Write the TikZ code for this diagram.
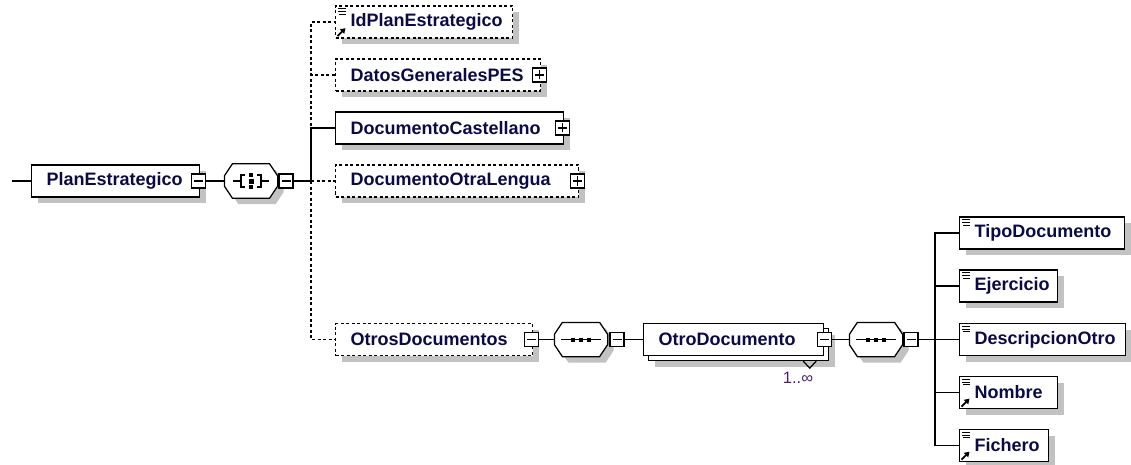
\documentclass[tikz,border=0pt]{standalone}
\usepackage{fontspec}
\setmainfont{Liberation Sans}
\usetikzlibrary{arrows.meta,shadows}
\definecolor{txt}{RGB}{10,10,70}
\definecolor{shadowc}{RGB}{194,194,194}
\definecolor{multc}{RGB}{80,30,110}
\newcommand\drawoct[1]{%
  \draw[fill=white, shad] ([xshift=8pt]#1.north west) -- ([xshift=-8pt]#1.north east) -- ([yshift=-12pt]#1.north east) -- ([yshift=12pt]#1.south east) -- ([xshift=-8pt]#1.south east) -- ([xshift=8pt]#1.south west) -- ([yshift=12pt]#1.south west) -- ([yshift=-12pt]#1.north west) -- cycle;}
\newcommand\seqicon[1]{%
  \draw ([xshift=-20pt]#1.center) -- ([xshift=20pt]#1.center);
  \fill ([shift={(-10,-2)}]#1.center) rectangle ++(4,4);
  \fill ([shift={(-2,-2)}]#1.center) rectangle ++(4,4);
  \fill ([shift={(6,-2)}]#1.center) rectangle ++(4,4);}
\newcommand\attricon[1]{%
  \draw[line width=1.1pt] ([shift={(3,3.5)}]#1.north west) -- ++(8,0) ([shift={(3,6.2)}]#1.north west) -- ++(8,0) ([shift={(4,8.9)}]#1.north west) -- ++(7,0);}
\newcommand\reficon[1]{%
  \draw[line width=1.8pt, -{Triangle[length=5pt,width=6pt]}] ([shift={(2.5,-2.5)}]#1.south west) -- ++(8,-8);}
\begin{document}
\begin{tikzpicture}[x=1pt,y=-1pt,line width=1.25pt,
  elem/.style={draw, fill=white, rectangle, anchor=west, minimum height=32pt, inner xsep=15pt, inner ysep=0pt, text width=#1, align=left, text=txt, font=\fontsize{18}{20}\selectfont\bfseries},
  opt/.style={dash pattern=on 3pt off 2.5pt},
  shad/.style={general shadow={fill=shadowc, shadow xshift=6pt, shadow yshift=-6pt}},
  multi/.style={general shadow={fill=shadowc, shadow xshift=11pt, shadow yshift=-11pt},
                general shadow={draw=black, fill=white, line width=1.25pt, shadow xshift=5pt, shadow yshift=-5pt}},
  pmbox/.style={draw, solid, fill=white, minimum size=14pt, inner sep=0pt},
  minus/.style={pmbox, path picture={\draw[line width=1.2pt] ([xshift=-4.5pt]path picture bounding box.center) -- ([xshift=4.5pt]path picture bounding box.center);}},
  plus/.style={pmbox, path picture={\draw[line width=1.2pt] ([xshift=-4.5pt]path picture bounding box.center) -- ([xshift=4.5pt]path picture bounding box.center) ([yshift=-4.5pt]path picture bounding box.center) -- ([yshift=4.5pt]path picture bounding box.center);}},
  comp/.style={rectangle, minimum width=52pt, minimum height=33pt, inner sep=0pt},
  optl/.style={dash pattern=on 3pt off 2.5pt},
]
\useasboundingbox (0,0) rectangle (1131,465);

% root
\coordinate (start) at (12,181);
\node[elem=138pt, shad] (plan) at (31,181) {PlanEstrategico};
\node[minus] (planm) at ([xshift=-1.5pt]plan.east) {};

% choice compositor
\node[comp] (ch) at (251,181) {};
\drawoct{ch}
\draw ([xshift=-18pt]ch.center) -- ([xshift=-10pt]ch.center);
\draw ([shift={(-6,-6)}]ch.center) -- ++(-4,0) -- ++(0,12) -- ++(4,0);
\draw ([shift={(6,-6)}]ch.center) -- ++(4,0) -- ++(0,12) -- ++(-4,0);
\draw ([xshift=10pt]ch.center) -- ([xshift=18pt]ch.center);
\fill ([shift={(-2,-8)}]ch.center) rectangle ++(4,4);
\fill ([shift={(-2.5,-2.5)}]ch.center) rectangle ++(5,5);
\fill ([shift={(-2,4)}]ch.center) rectangle ++(4,4);
\node[minus] (chm) at (286,181) {};
\coordinate (t1) at (311,181);

% children of choice
\node[elem=147pt, opt, shad] (id) at (335,22) {IdPlanEstrategico};
\attricon{id}
\reficon{id}
\node[elem=175pt, opt, shad] (datos) at (335,75) {DatosGeneralesPES};
\node[plus] (datosp) at ([xshift=-1.5pt]datos.east) {};
\node[elem=198pt, shad] (cast) at (335,128) {DocumentoCastellano};
\node[plus] (castp) at ([xshift=-1.5pt]cast.east) {};
\node[elem=213pt, opt, shad] (otra) at (335,181) {DocumentoOtraLengua};
\node[plus] (otrap) at ([xshift=-1.5pt]otra.east) {};
\node[elem=167pt, opt, shad] (otros) at (335,339.5) {OtrosDocumentos};
\node[minus] (otrosm) at ([xshift=-1.5pt]otros.east) {};

% sequence 1
\node[comp] (s1) at (581,339.5) {};
\drawoct{s1}
\seqicon{s1}
\node[minus] (s1m) at (617,339.5) {};

% OtroDocumento
\node[elem=150pt, multi] (otro) at (643,339.5) {OtroDocumento};
\node[minus] (otrom) at (otro.east) {};
\draw ([shift={(-21,5)}]otro.south east) -- ++(6.5,7) -- ++(6.5,-7);
\node[text=multc, font=\fontsize{16.5}{18}\selectfont, inner sep=0pt] (mult) at (798,378) {1..∞};

% sequence 2
\node[comp] (s2) at (876,339.5) {};
\drawoct{s2}
\seqicon{s2}
\node[minus] (s2m) at (911,339.5) {};
\coordinate (t2) at (935,339.5);

% right column
\node[elem=135pt, shad] (tipo) at (959,233) {TipoDocumento};
\attricon{tipo}
\node[elem=68pt, shad] (ejer) at (959,286) {Ejercicio};
\attricon{ejer}
\node[elem=136pt, shad] (desc) at (959,339.5) {DescripcionOtro};
\attricon{desc}
\node[elem=68pt, shad] (nombre) at (959,392.5) {Nombre};
\attricon{nombre}
\reficon{nombre}
\node[elem=59pt, shad] (fich) at (959,445.5) {Fichero};
\attricon{fich}
\reficon{fich}

% connectors
\draw (start) -- (plan.west);
\draw (planm.east) -- (ch.west);
\draw (chm.east) -- (t1);
\draw[optl] (t1) |- (id.west);
\draw[optl] (t1) |- (datos.west);
\draw[optl] (t1) -- (otra.west);
\draw[optl] (t1) |- (otros.west);
\draw (t1) |- (cast.west);
\draw (otrosm.east) -- (s1.west);
\draw (s1m.east) -- (otro.west);
\draw (otrom.east) -- (s2.west);
\draw (s2m.east) -- (t2);
\draw (t2) |- (tipo.west);
\draw (t2) |- (ejer.west);
\draw (t2) -- (desc.west);
\draw (t2) |- (nombre.west);
\draw (t2) |- (fich.west);
\end{tikzpicture}
\end{document}
